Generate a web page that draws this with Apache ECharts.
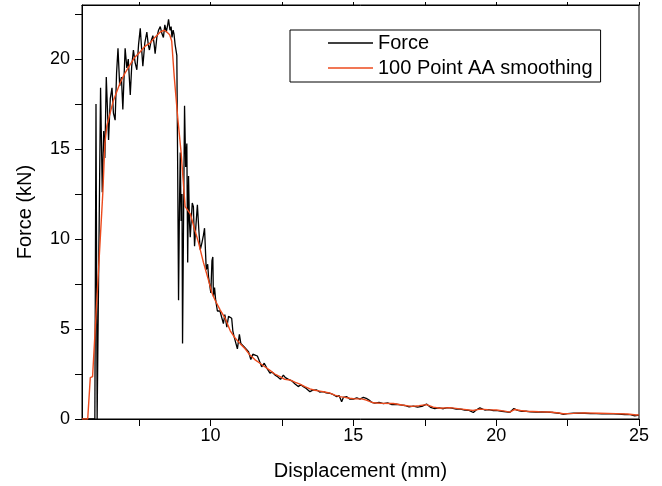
<!DOCTYPE html>
<html>
<head>
<meta charset="utf-8">
<script src="https://cdn.jsdelivr.net/npm/echarts@6/dist/echarts.min.js"></script>
<style>html,body{margin:0;padding:0;background:#fff;}#c{width:662px;height:486px;}</style>
</head>
<body>
<div id="c"></div>
<script>
// Raw force signal
var rawDisp = [5.50,5.95,5.99,6.03,6.08,6.15,6.21,6.26,6.30,6.35,6.43,6.49,6.55,6.60,6.66,6.71,6.76,6.82,6.88,6.93,7.01,7.07,7.12,7.19,7.24,7.30,7.36,7.42,7.48,7.54,7.59,7.63,7.70,7.77,7.82,7.86,7.92,7.98,8.02,8.06,8.12,8.18,8.24,8.30,8.35,8.40,8.45,8.50,8.53,8.58,8.62,8.65,8.69,8.72,8.76,8.80,8.82,8.85,8.88,8.91,8.94,8.97,9.00,9.02,9.06,9.09,9.13,9.17,9.20,9.23,9.26,9.29,9.33,9.36,9.40,9.44,9.49,9.54,9.59,9.64,9.70,9.75,9.79,9.85,9.90,9.93,10.01,10.05,10.08,10.10,10.14,10.18,10.22,10.24,10.28,10.33,10.40,10.45,10.50,10.57,10.63,10.70,10.74,10.78,10.82,10.88,10.94,11.01,11.06,11.12,11.18,11.25,11.33,11.41,11.48,11.56,11.64,11.71,11.79,11.88,11.97,12.02,12.08,12.16,12.26,12.35,12.45,12.55,12.62,12.67,12.73,12.78,12.86,12.96,13.07,13.16,13.25,13.35,13.48,13.58,13.72,13.82,13.95,14.05,14.18,14.30,14.42,14.50,14.59,14.65,14.77,14.88,15.00,15.12,15.23,15.35,15.45,15.55,15.65,15.75,15.90,16.05,16.20,16.35,16.50,16.65,16.80,16.95,17.10,17.25,17.40,17.56,17.70,17.85,18.00,18.15,18.30,18.45,18.60,18.75,18.90,19.05,19.20,19.30,19.43,19.60,19.75,19.90,20.05,20.20,20.35,20.48,20.62,20.75,20.90,21.05,21.20,21.40,21.60,21.80,22.00,22.20,22.35,22.50,22.70,22.90,23.10,23.30,23.50,23.70,23.90,24.10,24.30,24.50,24.70,24.85,25.00];
var rawForce = [0,0,17.5,0,0,18.4,12.6,16.0,14.5,19.0,15.5,17.8,18.4,17.0,16.6,19.2,20.6,18.5,19.0,17.2,20.6,19.5,20.0,18.0,19.6,20.5,19.8,19.4,20.8,21.7,20.5,19.6,20.9,21.5,20.8,20.5,21.0,21.3,20.9,20.3,21.2,21.6,21.8,21.4,21.2,21.9,21.5,21.9,22.2,21.6,21.8,21.2,21.6,21.4,20.8,20.9,20.2,13.8,6.6,11.5,14.8,11.0,12.5,4.2,12.0,17.4,14.0,15.3,8.7,13.5,11.0,10.1,11.2,12.0,11.8,9.6,10.8,11.9,10.5,9.4,9.8,10.2,10.6,8.3,8.6,7.9,7.0,8.8,9.0,6.8,7.3,6.6,6.6,6.0,5.9,6.0,6.05,5.3,5.8,5.1,5.7,5.7,5.6,4.9,4.6,4.6,3.9,4.7,4.2,4.2,4.0,4.0,3.74,3.3,3.6,3.55,3.5,3.46,2.9,3.1,2.83,2.85,2.55,2.6,2.44,2.35,2.2,2.44,2.3,2.35,2.2,2.27,2.1,1.94,1.8,1.9,1.8,1.7,1.52,1.6,1.61,1.5,1.52,1.45,1.43,1.35,1.24,1.3,0.96,1.2,1.24,1.1,1.1,1.18,1.1,1.2,1.15,1.05,0.92,0.88,0.92,0.85,0.9,0.8,0.82,0.78,0.75,0.68,0.72,0.66,0.7,0.83,0.65,0.58,0.62,0.57,0.63,0.6,0.55,0.55,0.5,0.48,0.36,0.5,0.62,0.5,0.52,0.46,0.47,0.43,0.4,0.37,0.58,0.48,0.42,0.43,0.4,0.38,0.4,0.38,0.36,0.32,0.26,0.3,0.32,0.33,0.32,0.3,0.3,0.28,0.3,0.28,0.27,0.25,0.24,0.18,0.22];
// 100 point adjacent-averaging smoothing
var smoothDisp = [5.50,5.70,5.79,5.87,6.23,6.30,6.37,6.60,6.84,7.00,7.19,7.35,7.54,7.70,7.89,8.05,8.24,8.38,8.47,8.57,8.64,8.73,8.86,8.97,9.11,9.20,9.29,9.45,9.58,9.75,9.93,10.05,10.16,10.34,10.51,10.69,10.86,11.03,11.21,11.38,11.55,11.73,11.90,12.08,12.25,12.43,12.60,12.78,12.95,13.13,13.30,13.48,13.65,13.83,14.00,14.18,14.35,14.53,14.70,14.88,15.05,15.29,15.45,15.70,16.00,16.40,16.70,17.04,17.30,17.56,17.80,18.03,18.38,18.80,19.19,19.43,19.70,20.01,20.30,20.48,20.65,20.85,21.06,21.50,21.87,22.20,22.34,22.70,23.04,23.60,24.20,24.60,24.91,25.00];
var smoothForce = [0,0,2.3,2.35,12.6,15.3,16.3,17.7,18.7,19.2,19.7,20.1,20.4,20.7,20.9,21.2,21.5,21.6,21.5,21.35,21.0,19.0,16.6,14.8,11.8,11.6,11.4,10.5,9.8,8.7,7.7,7.0,6.6,6.05,5.6,4.9,4.5,4.2,3.9,3.55,3.3,3.1,2.9,2.7,2.5,2.35,2.2,2.17,2.05,1.94,1.8,1.67,1.6,1.55,1.5,1.44,1.33,1.24,1.2,1.15,1.12,1.12,1.05,0.9,0.87,0.86,0.78,0.7,0.74,0.8,0.66,0.6,0.63,0.55,0.47,0.55,0.52,0.5,0.44,0.38,0.53,0.47,0.43,0.4,0.39,0.33,0.29,0.31,0.34,0.32,0.3,0.28,0.22,0.23];
var xLabels = [10, 15, 20, 25];
var xTicks = [7.5, 10, 12.5, 15, 17.5, 20, 22.5, 25];
var yLabels = [0, 5, 10, 15, 20];
var yTicks = [0, 2.5, 5, 7.5, 10, 12.5, 15, 17.5, 20, 22.5];

var chart = echarts.init(document.getElementById('c'), null, {renderer: 'canvas'});
var font = 'Liberation Sans, Arial, sans-serif';
function pairs(xs, ys) { return xs.map(function (x, i) { return [x, ys[i]]; }); }
var option = {
  animation: false,
  backgroundColor: '#fff',
  grid: {left: 82, right: 23, top: 5, bottom: 67, show: true, borderColor: '#000', borderWidth: 1},
  legend: {
    orient: 'vertical', left: 290, top: 30,
    backgroundColor: '#fff', borderColor: '#000', borderWidth: 1,
    padding: [3, 8, 4, 38], itemGap: 5, itemWidth: 45, itemHeight: 1.5,
    icon: 'rect',
    textStyle: {fontFamily: font, fontSize: 20, color: '#000', lineHeight: 20},
    data: ['Force', '100 Point AA smoothing']
  },
  xAxis: [{
    type: 'value', min: 5.5, max: 25, position: 'bottom',
    name: 'Displacement (mm)', nameLocation: 'middle', nameGap: 42,
    nameTextStyle: {fontFamily: font, fontSize: 20, color: '#000'},
    axisLine: {show: true, lineStyle: {color: '#000', width: 1}},
    axisTick: {show: true, inside: false, length: 7, customValues: xTicks, lineStyle: {color: '#000'}},
    axisLabel: {customValues: xLabels, margin: 8, fontFamily: font, fontSize: 18, color: '#000'},
    splitLine: {show: false}
  }, {
    type: 'value', min: 5.5, max: 25, position: 'top',
    axisLine: {show: true, lineStyle: {color: '#000', width: 1}},
    axisTick: {show: true, inside: false, length: 3, customValues: xTicks, lineStyle: {color: '#000'}},
    axisLabel: {show: false},
    splitLine: {show: false}
  }],
  yAxis: [{
    type: 'value', min: 0, max: 23,
    name: 'Force (kN)', nameLocation: 'middle', nameGap: 47,
    nameTextStyle: {fontFamily: font, fontSize: 20, color: '#000'},
    axisLine: {show: true, lineStyle: {color: '#000', width: 1}},
    axisTick: {show: true, inside: false, length: 7, customValues: yTicks, lineStyle: {color: '#000'}},
    axisLabel: {customValues: yLabels, margin: 12, fontFamily: font, fontSize: 18, color: '#000'},
    splitLine: {show: false}
  }],
  series: [{
    name: 'Force', type: 'line', xAxisIndex: 0, yAxisIndex: 0,
    data: pairs(rawDisp, rawForce), symbol: 'none', showSymbol: false,
    lineStyle: {color: '#000', width: 1.3}, itemStyle: {color: '#000'}, z: 2
  }, {
    name: '100 Point AA smoothing', type: 'line', xAxisIndex: 0, yAxisIndex: 0,
    data: pairs(smoothDisp, smoothForce), symbol: 'none', showSymbol: false,
    lineStyle: {color: '#ec4a1c', width: 1.4}, itemStyle: {color: '#ec4a1c'}, z: 3
  }]
};
chart.setOption(option);
</script>
</body>
</html>
